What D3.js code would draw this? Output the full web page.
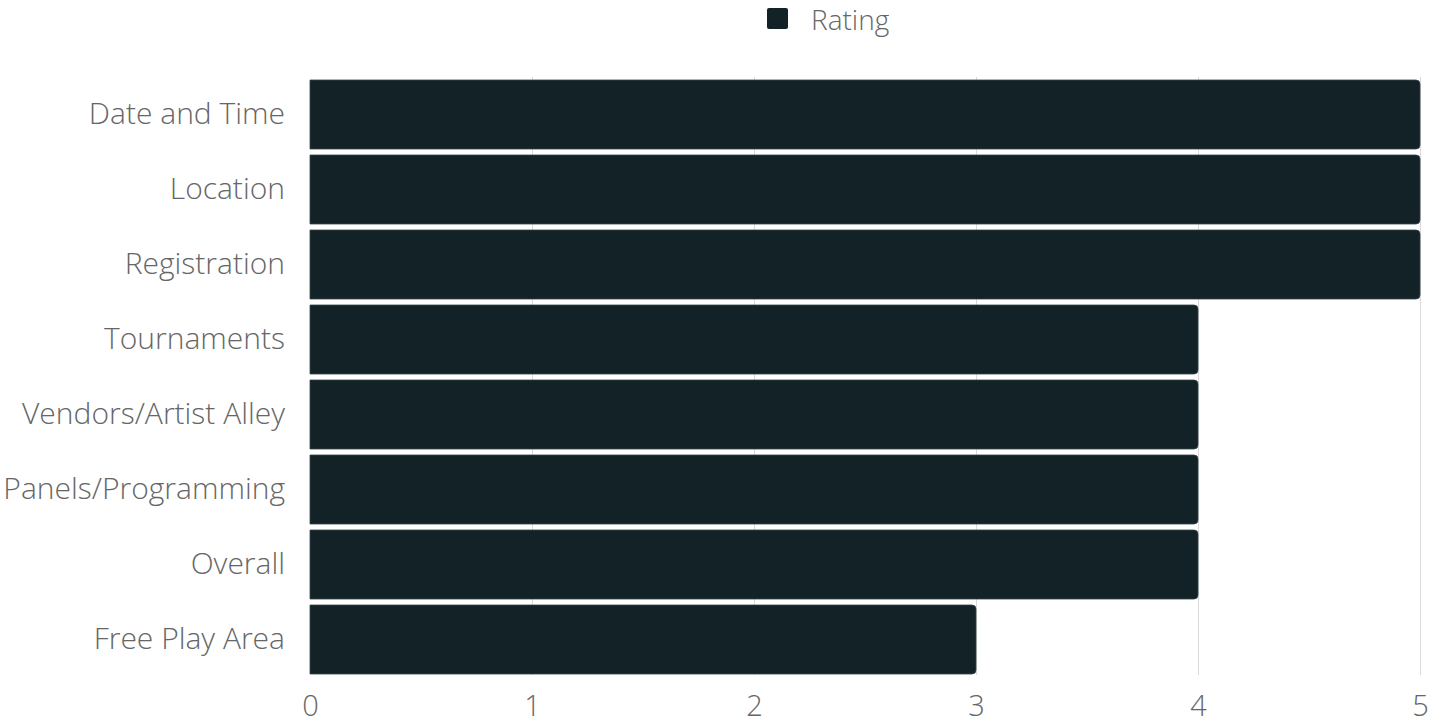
<!DOCTYPE html>
<html>
<head>
<meta charset="utf-8">
<script src="https://cdn.jsdelivr.net/npm/d3@7"></script>
<style>
  html, body { margin: 0; padding: 0; background: #fff; }
  svg text { font-family: "Open Sans", sans-serif; font-weight: 300; fill: #666; }
</style>
</head>
<body>
<svg id="chart" width="1429" height="725"></svg>
<script>
// Survey ratings per event aspect
const categories = ["Date and Time", "Location", "Registration", "Tournaments",
  "Vendors/Artist Alley", "Panels/Programming", "Overall", "Free Play Area"];
const ratings = [5, 5, 5, 4, 4, 4, 4, 3];
const xTicks = [0, 1, 2, 3, 4, 5];
const seriesName = "Rating";

const barColor = "#132226";
const svg = d3.select("#chart");
const margin = { top: 77, right: 9, bottom: 48, left: 310 };
const W = 1429, H = 725;
const innerW = W - margin.left - margin.right;
const innerH = H - margin.top - margin.bottom;

const x = d3.scaleLinear().domain([0, 5]).range([0, innerW]);
const y = d3.scaleBand().domain(categories).range([0, innerH]).paddingInner(0.08).paddingOuter(0.04);

const g = svg.append("g").attr("transform", `translate(${margin.left},${margin.top})`);

// vertical gridlines
g.selectAll("line.grid").data(xTicks.slice(1)).join("line")
  .attr("class", "grid")
  .attr("x1", d => x(d) + 0.5).attr("x2", d => x(d) + 0.5)
  .attr("y1", 0).attr("y2", innerH - 2)
  .attr("stroke", "#d9d9d9").attr("stroke-width", 1);

// bars with rounded right end
const r = 4;
function barPath(d, i) {
  const x0 = x(0), x1 = x(d), y0 = y(categories[i]), h = y.bandwidth();
  return `M${x0},${y0}H${x1 - r}Q${x1},${y0} ${x1},${y0 + r}V${y0 + h - r}Q${x1},${y0 + h} ${x1 - r},${y0 + h}H${x0}Z`;
}
g.selectAll("path.bar").data(ratings).join("path")
  .attr("class", "bar")
  .attr("d", barPath)
  .attr("fill", barColor)
  .attr("stroke", "#34444a").attr("stroke-width", 0.8);

// x axis labels
const xAxis = d3.axisBottom(x).tickValues(xTicks).tickSize(0).tickPadding(18).tickFormat(d3.format("d"));
const xa = g.append("g").attr("transform", `translate(0,${innerH})`).call(xAxis);
xa.select(".domain").remove();
xa.selectAll("text").attr("font-size", 29).attr("fill", "#666")
  .style("font-family", '"Open Sans", sans-serif').style("font-weight", 300);

// y axis labels
const yAxis = d3.axisLeft(y).tickSize(0).tickPadding(25);
const ya = g.append("g").call(yAxis);
ya.select(".domain").remove();
ya.selectAll("text").attr("font-size", 30).attr("fill", "#666")
  .style("font-family", '"Open Sans", sans-serif').style("font-weight", 300);

// legend
const legend = svg.append("g").attr("transform", "translate(767,8)");
legend.append("rect").attr("width", 21).attr("height", 21).attr("rx", 2).attr("fill", barColor);
legend.append("text").attr("x", 44).attr("y", 22)
  .attr("font-size", 28).text(seriesName);
</script>
</body>
</html>
